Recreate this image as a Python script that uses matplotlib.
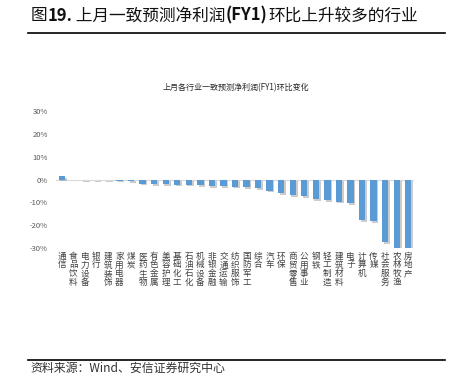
import numpy as np
import matplotlib
matplotlib.use("Agg")
import matplotlib.pyplot as plt
from matplotlib import patheffects as pe
from matplotlib.lines import Line2D

plt.rcParams["font.family"] = ["Noto Sans CJK SC", "DejaVu Sans"]

industries = ["通信", "食品饮料", "电力设备", "银行", "建筑装饰", "家用电器", "煤炭",
              "医药生物", "有色金属", "美容护理", "基础化工", "石油石化", "机械设备",
              "非银金融", "交通运输", "纺织服饰", "国防军工", "综合", "汽车", "环保",
              "商贸零售", "公用事业", "钢铁", "轻工制造", "建筑材料", "电子", "计算机",
              "传媒", "社会服务", "农林牧渔", "房地产"]
change_pct = [1.6, -0.1, -0.2, -0.3, -0.4, -0.5, -0.7,
              -1.8, -1.9, -2.0, -2.2, -2.3, -2.5,
              -2.8, -3.0, -3.1, -3.4, -3.8, -4.8, -6.0,
              -6.8, -7.2, -8.5, -9.0, -9.7, -10.4, -17.6,
              -18.3, -27.4, -31.0, -31.0]
y_ticks = [30, 20, 10, 0, -10, -20, -30]

fig = plt.figure(figsize=(4.59, 3.74), dpi=100)
renderer = fig.canvas.get_renderer()

# page header: latin parts in bold, chinese parts regular
title_parts = [("图", "normal"), ("19.", "bold"), (" 上月一致预测净利润", "normal"),
               ("(FY1)", "bold"), ("环比上升较多的行业", "normal")]
x0 = 0.066
for txt, w in title_parts:
    t = fig.text(x0, 0.958, txt, fontsize=12, color="#111111", fontweight=w,
                 va="center", ha="left")
    x0 += (t.get_window_extent(renderer=renderer).width + 0.3) / fig.bbox.width

fig.add_artist(Line2D([0.061, 0.97], [0.911, 0.911], color="black", lw=1.2))

# footer
fig.add_artist(Line2D([0.061, 0.97], [0.037, 0.037], color="black", lw=1.2))
fig.text(0.066, 0.016, "资料来源：Wind、安信证券研究中心", fontsize=8.6,
         color="#333333", va="center", ha="left", style="italic")

fig.text(0.514, 0.765, "上月各行业一致预测净利润(FY1)环比变化", fontsize=5.8,
         color="#262626", ha="center", va="center")

ax = fig.add_axes([0.122, 0.336, 0.780, 0.368])
x = np.arange(len(industries))
bars = ax.bar(x, change_pct, width=0.55, color="#5B9BD5", zorder=3)
for b in bars:
    b.set_path_effects([pe.SimplePatchShadow(offset=(1.2, -1.2), shadow_rgbFace="#9a9a9a", alpha=0.5),
                        pe.Normal()])

ax.set_xlim(-0.5, len(industries) - 0.5)
ax.set_ylim(-30, 30)
ax.axhline(0, color="#D9D9D9", lw=0.8, zorder=2)
ax.set_yticks(y_ticks)
ax.set_yticklabels([f"{v}%" for v in y_ticks], fontsize=5.5, color="#595959")
ax.tick_params(axis="y", length=0, pad=6)
ax.set_xticks([])
for s in ax.spines.values():
    s.set_visible(False)

# vertical category labels, one character per line
for xi, name in zip(x, industries):
    ax.text(xi, -31.5, "\n".join(name), fontsize=6.2, color="#404040",
            ha="center", va="top", linespacing=0.95, clip_on=False)

fig.savefig("out.png", dpi=100, facecolor="white")
